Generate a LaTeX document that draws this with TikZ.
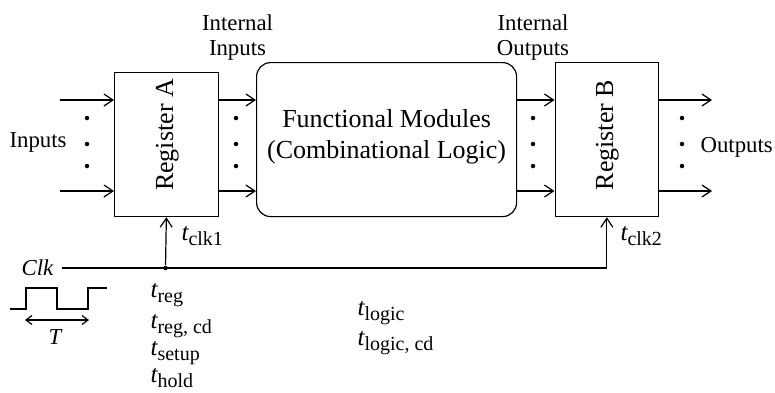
\documentclass[tikz,border=0pt]{standalone}
\usepackage{fontspec}
\setmainfont{Liberation Serif}
\usetikzlibrary{arrows.meta}
\newcommand\tlab[1]{{\fontsize{25}{25}\selectfont\itshape t}\raisebox{-5pt}{\fontsize{20}{20}\selectfont #1}}
\begin{document}
\begin{tikzpicture}[x=1pt,y=-1pt,line width=1.2pt,
  arr/.style={-{Straight Barb[length=9pt,width=12pt,line width=1.2pt]}},
  darr/.style={{Straight Barb[length=6pt,width=9pt,line width=1.2pt]}-{Straight Barb[length=6pt,width=9pt,line width=1.2pt]}},
  regbox/.style={draw,inner sep=0pt,anchor=north west,minimum width=103.5pt},
  regtext/.style={rotate=90,anchor=base,inner sep=0pt,font=\fontsize{26}{26}\selectfont},
  lbl/.style={inner sep=0pt,font=\fontsize{22.8}{25}\selectfont},
  dotc/.style={circle,fill,inner sep=0pt,minimum size=4.5pt},
  tl/.style={inner sep=0pt,anchor=base west}]
\useasboundingbox (0,0) rectangle (775,392);

% boxes
\node[regbox,minimum height=144pt] (A) at (114,72) {};
\node[regbox,minimum height=154pt] (B) at (554.5,62) {};
\node[draw,rounded corners=14pt,inner sep=0pt,anchor=north west,minimum width=260pt,minimum height=154pt,
      align=center,font=\fontsize{26}{30}\selectfont] (F) at (256,62)
      {\raisebox{12pt}{Functional Modules}\\\raisebox{12pt}{(Combinational Logic)}};
\node[regtext] (At) at (173,135) {Register A};
\node[regtext] (Bt) at (613,135) {Register B};

% input arrows
\coordinate (i1) at (60,100);
\coordinate (i2) at (60,191);
\draw[arr] (i1) -- (i1 -| A.west);
\draw[arr] (i2) -- (i2 -| A.west);
\draw[arr] (A.east |- i1) -- (F.west |- i1);
\draw[arr] (A.east |- i2) -- (F.west |- i2);
\draw[arr] (F.east |- i1) -- (B.west |- i1);
\draw[arr] (F.east |- i2) -- (B.west |- i2);
\coordinate (o1) at (712,100);
\coordinate (o2) at (712,191);
\draw[arr] (B.east |- o1) -- (o1);
\draw[arr] (B.east |- o2) -- (o2);

% dots
\foreach \x/\n in {87/a,236/b,533/c,682/d}{
  \node[dotc] (\n1) at (\x,118) {};
  \node[dotc] (\n2) at (\x,144) {};
  \node[dotc] (\n3) at (\x,166) {};
}

% labels
\node[lbl,anchor=base west] (inl) at (9,147) {Inputs};
\node[lbl,anchor=base west] (outl) at (700,152) {Outputs};
\node[lbl,anchor=base] (ii1) at (237.5,30) {Internal};
\node[lbl,anchor=base] (ii2) at (237.5,55) {Inputs};
\node[lbl,anchor=base] (io1) at (533,30) {Internal};
\node[lbl,anchor=base] (io2) at (533,55) {Outputs};

% clock
\node[lbl,anchor=base west,font=\fontsize{22.8}{25}\selectfont\itshape] (clk) at (21,275) {Clk};
\coordinate (cs) at (62,268);
\coordinate (cb) at (B.south |- cs);
\node[dotc] (j) at (165.5,268) {};
\draw (cs) -- (cb);
\draw[arr] (cb) -- (B.south);
\draw[arr] (j) -- (A.south);

% waveform
\draw (10,309) -- (26,309) -- (26,288) -- (57,288) -- (57,309) -- (88,309) -- (88,288) -- (107,288);
\coordinate (T1) at (25,320);
\coordinate (T2) at (89,320);
\draw[darr] (T1) -- (T2);
\node[lbl,anchor=base,font=\fontsize{22.8}{25}\selectfont\itshape] (T) at (55,344) {T};

% timing labels
\node[tl] (tc1) at (181,240) {\tlab{clk1}};
\node[tl] (tc2) at (620,240) {\tlab{clk2}};
\node[tl] (tr) at (150,297) {\tlab{reg}};
\node[tl] (trc) at (150,328) {\tlab{reg, cd}};
\node[tl] (ts) at (150,355) {\tlab{setup}};
\node[tl] (th) at (150,382) {\tlab{hold}};
\node[tl] (tlg) at (357,315) {\tlab{logic}};
\node[tl] (tlc) at (357,345) {\tlab{logic, cd}};
\end{tikzpicture}
\end{document}
